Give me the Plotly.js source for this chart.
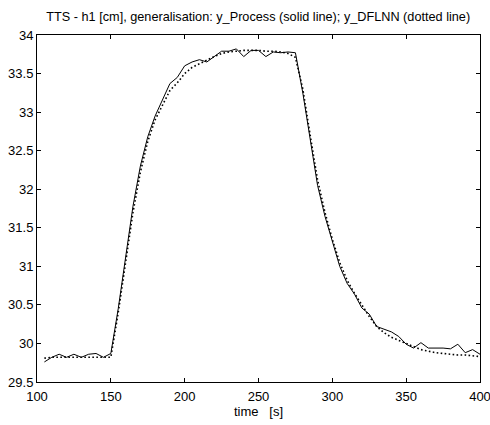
<!DOCTYPE html>
<html>
<head>
<meta charset="utf-8">
<script src="https://cdn.plot.ly/plotly-3.0.1.min.js"></script>
<style>html,body{margin:0;padding:0;background:#fff;}#chart{width:490px;height:425px;}</style>
</head>
<body>
<div id="chart"></div>
<script>
const time = [105,110,115,120,125,130,135,140,145,150,155,160,165,170,175,180,185,190,195,200,
  205,210,215,220,225,230,235,240,245,250,255,260,265,270,275,280,285,290,295,300,
  305,310,315,320,325,330,335,340,345,350,355,360,365,370,375,380,385,390,395,400];
const yProcess = [29.76,29.82,29.86,29.82,29.86,29.82,29.86,29.87,29.82,29.87,
  30.45,31.10,31.78,32.30,32.68,32.95,33.17,33.37,33.45,33.60,
  33.65,33.68,33.65,33.72,33.79,33.79,33.82,33.72,33.80,33.80,
  33.72,33.78,33.77,33.78,33.77,33.25,32.62,32.05,31.65,31.33,
  31.00,30.78,30.64,30.46,30.38,30.22,30.19,30.15,30.09,29.99,
  29.94,30.01,29.94,29.94,29.94,29.93,29.99,29.88,29.92,29.86];
const yDFLNN = [29.81,29.82,29.82,29.82,29.82,29.82,29.82,29.82,29.82,29.82,
  30.40,31.05,31.70,32.22,32.62,32.90,33.10,33.28,33.38,33.50,
  33.58,33.63,33.67,33.72,33.76,33.78,33.79,33.80,33.80,33.80,
  33.79,33.79,33.78,33.76,33.71,33.30,32.70,32.12,31.70,31.35,
  31.05,30.82,30.65,30.50,30.35,30.22,30.14,30.08,30.04,29.99,
  29.95,29.92,29.90,29.88,29.87,29.86,29.85,29.85,29.84,29.83];
const xTicks = [100,150,200,250,300,350,400];
const yTicks = [29.5,30,30.5,31,31.5,32,32.5,33,33.5,34];
const yTickText = ['29.5','30','30.5','31','31.5','32','32.5','33','33.5','34'];

const font = {family: 'Liberation Sans, Arial, sans-serif', size: 13, color: '#000'};
const traces = [
  {x: time, y: yProcess, mode: 'lines', line: {color: '#000', width: 1}, name: 'y_Process'},
  {x: time, y: yDFLNN, mode: 'lines', line: {color: '#000', width: 1.6, dash: '1.6px,2.4px'}, name: 'y_DFLNN'}
];
const axisCommon = {
  showgrid: false, zeroline: false, showline: true, linecolor: '#000', linewidth: 1,
  mirror: 'ticks', ticks: 'inside', ticklen: 4, tickcolor: '#000', tickwidth: 1,
  tickfont: font, ticklabeloverflow: 'allow'
};
const layout = {
  width: 490, height: 425,
  margin: {l: 37, r: 10, t: 35, b: 43},
  paper_bgcolor: '#fff', plot_bgcolor: '#fff',
  showlegend: false,
  font: font,
  title: {text: 'TTS - h1 [cm], generalisation: y_Process (solid line); y_DFLNN (dotted line)',
    font: {family: 'Liberation Sans, Arial, sans-serif', size: 12.7, color: '#000'},
    x: 0.527, xanchor: 'center', y: 0.962, yanchor: 'middle'},
  xaxis: Object.assign({}, axisCommon, {range: [100, 400], tickvals: xTicks, ticklabelstandoff: 2,
    title: {text: 'time   [s]', font: font, standoff: 1}}),
  yaxis: Object.assign({}, axisCommon, {range: [29.5, 34], tickvals: yTicks, ticktext: yTickText})
};
Plotly.newPlot('chart', traces, layout, {staticPlot: true, displayModeBar: false});
</script>
</body>
</html>
